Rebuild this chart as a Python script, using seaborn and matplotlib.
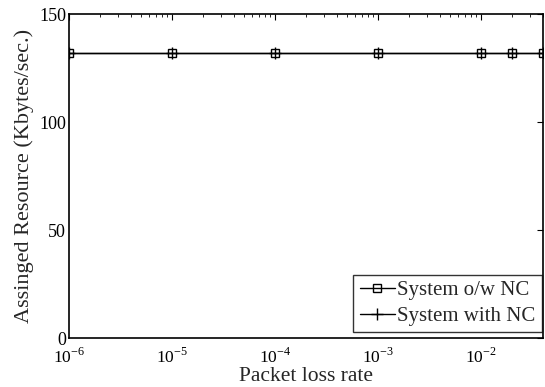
import matplotlib
matplotlib.use("Agg")
import matplotlib.pyplot as plt
import seaborn as sns
import numpy as np

sns.set_theme(style="white")
plt.rcParams['font.family'] = ['Liberation Serif', 'DejaVu Serif']
plt.rcParams['mathtext.fontset'] = 'custom'
plt.rcParams['mathtext.rm'] = 'Liberation Serif'

loss_rate = [1e-6, 1e-5, 1e-4, 1e-3, 1e-2, 2e-2, 4e-2]
without_nc = [131.8, 131.8, 131.8, 131.8, 131.8, 131.8, 131.8]
with_nc = [131.8, 131.8, 131.8, 131.8, 131.8, 131.8, 131.8]
series_names = ["System o/w NC", "System with NC"]
x_tick_labels = [r"$10^{-6}$", r"$10^{-5}$", r"$10^{-4}$", r"$10^{-3}$", r"$10^{-2}$"]

fig = plt.figure(figsize=(5.45, 3.87), dpi=100)
ax = fig.add_axes([0.1266, 0.1266, 0.8697, 0.8372])

sns.lineplot(x=loss_rate, y=without_nc, color="black", marker="s", markersize=6,
             markerfacecolor="none", markeredgecolor="black", markeredgewidth=1.0,
             linewidth=1.0, label=series_names[0], ax=ax)
sns.lineplot(x=loss_rate, y=with_nc, color="black", marker="+", markersize=8,
             markeredgecolor="black", markeredgewidth=1.0, linewidth=1.0,
             label=series_names[1], ax=ax)

ax.set_xscale("log")
ax.set_xlim(1e-6, 4e-2)
ax.set_ylim(0, 150)
ax.set_yticks([0, 50, 100, 150])
ax.set_xticks([1e-6, 1e-5, 1e-4, 1e-3, 1e-2])
ax.set_xticklabels(x_tick_labels)
ax.tick_params(axis="both", which="both", direction="in", top=True, right=True,
               colors="black")
ax.tick_params(axis="y", labelsize=13, pad=2)
ax.tick_params(axis="x", labelsize=12.5, pad=7)
ax.tick_params(which="major", length=4, width=0.8)
ax.tick_params(which="minor", length=2, width=0.6)
ax.xaxis.set_minor_locator(matplotlib.ticker.LogLocator(base=10, subs=np.arange(2, 10), numticks=20))
ax.xaxis.set_minor_formatter(matplotlib.ticker.NullFormatter())
for s in ax.spines.values():
    s.set_color("black")
    s.set_linewidth(1.2)

ax.set_xlabel("Packet loss rate", fontsize=15.5, labelpad=0)
ax.set_ylabel("Assinged Resource (Kbytes/sec.)", fontsize=16, labelpad=4)

leg = ax.legend(loc="lower right", bbox_to_anchor=(0.997, 0.017), fontsize=15,
                frameon=True, fancybox=False, edgecolor="black", borderpad=0.3,
                labelspacing=0.3, handlelength=1.7, handletextpad=0.1,
                borderaxespad=0.0)
leg.get_frame().set_linewidth(1.0)

fig.savefig("out.png", dpi=100)
